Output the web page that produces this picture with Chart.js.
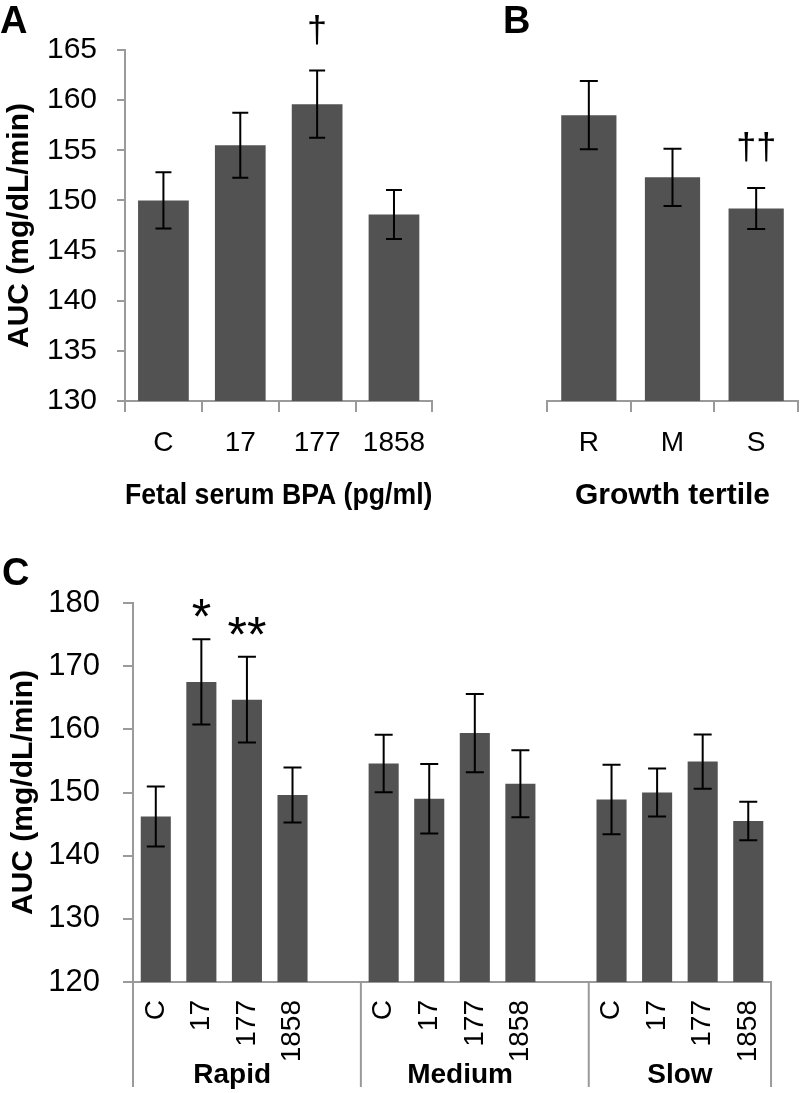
<!DOCTYPE html>
<html>
<head>
<meta charset="utf-8">
<script src="https://cdn.jsdelivr.net/npm/chart.js@4.4.1/dist/chart.umd.min.js"></script>
<style>
  html, body { margin: 0; padding: 0; background: #fff; }
  #wrap { position: relative; width: 800px; height: 1093px; }
  canvas { position: absolute; }
</style>
</head>
<body>
<div id="wrap">
  <canvas id="chartA" width="440" height="520" style="left:0;top:0"></canvas>
  <canvas id="chartB" width="360" height="520" style="left:440px;top:0"></canvas>
  <canvas id="chartC" width="800" height="573" style="left:0;top:520px"></canvas>
</div>
<script>
// panel A: fetal serum BPA
const bpaLabels = ['C', '17', '177', '1858'];
const bpaMeans = [150.0, 155.5, 159.6, 148.6];
const bpaErrors = [2.8, 3.25, 3.35, 2.45];
const bpaMarks = ['', '', '\u2020', ''];

// panel B: growth tertile
const tertileLabels = ['R', 'M', 'S'];
const tertileMeans = [158.5, 152.3, 149.2];
const tertileErrors = [3.4, 2.85, 2.05];
const tertileMarks = ['', '', '\u2020\u2020'];

// panel C: BPA within each growth tertile (empty slot between groups)
const groupNames = ['Rapid', 'Medium', 'Slow'];
const subLabels = ['C', '17', '177', '1858', '', 'C', '17', '177', '1858', '', 'C', '17', '177', '1858'];
const subMeans = [146.2, 167.5, 164.7, 149.6, null, 154.6, 149.0, 159.4, 151.4, null, 148.9, 150.0, 154.9, 145.5];
const subErrors = [4.75, 6.75, 6.8, 4.35, null, 4.55, 5.5, 6.2, 5.3, null, 5.5, 3.8, 4.3, 3.05];
const subMarks = ['', '*', '**', '', '', '', '', '', '', '', '', '', '', ''];

const yTitle = 'AUC (mg/dL/min)';
const FONT = '"Liberation Sans", Arial, sans-serif';
const BAR = '#525252';
const AXIS = '#9a9a9a';

const errorBars = {
  id: 'errorBars',
  afterDatasetsDraw(chart, args, opts) {
    const ctx = chart.ctx;
    const y = chart.scales.y;
    const values = chart.data.datasets[0].data;
    const meta = chart.getDatasetMeta(0);
    ctx.save();
    ctx.strokeStyle = '#000';
    ctx.fillStyle = '#000';
    ctx.lineWidth = 2;
    meta.data.forEach((bar, i) => {
      const m = values[i];
      if (m == null) return;
      const e = opts.errors[i];
      const top = y.getPixelForValue(m + e);
      const bot = y.getPixelForValue(m - e);
      const cx = bar.x;
      ctx.beginPath();
      ctx.moveTo(cx, top); ctx.lineTo(cx, bot);
      ctx.moveTo(cx - opts.cap, top); ctx.lineTo(cx + opts.cap, top);
      ctx.moveTo(cx - opts.cap, bot); ctx.lineTo(cx + opts.cap, bot);
      ctx.stroke();
      const mark = opts.marks[i];
      if (mark) {
        ctx.font = opts.markFont;
        ctx.textAlign = 'center';
        ctx.textBaseline = 'alphabetic';
        ctx.fillText(mark, cx, top - opts.markGap);
      }
    });
    ctx.restore();
  }
};

const panelText = {
  id: 'panelText',
  afterDraw(chart, args, opts) {
    const ctx = chart.ctx;
    ctx.save();
    ctx.fillStyle = '#000';
    ctx.font = 'bold 38px ' + FONT;
    ctx.textAlign = 'left';
    ctx.textBaseline = 'alphabetic';
    ctx.fillText(opts.letter, opts.lx, opts.ly);
    if (opts.groups) {
      const x = chart.scales.x;
      const area = chart.chartArea;
      const edge = i => (x.getPixelForValue(i) + x.getPixelForValue(i + 1)) / 2;
      const cuts = [area.left, edge(4), edge(9), area.right];
      ctx.strokeStyle = AXIS;
      ctx.lineWidth = 2;
      ctx.beginPath();
      cuts.forEach(px => { ctx.moveTo(px, area.bottom); ctx.lineTo(px, chart.height - 6); });
      ctx.stroke();
      ctx.font = 'bold 28px ' + FONT;
      ctx.textAlign = 'center';
      ctx.textBaseline = 'middle';
      opts.groups.forEach((name, g) => {
        const mid = (x.getPixelForValue(g * 5) + x.getPixelForValue(g * 5 + 3)) / 2;
        ctx.fillText(name, mid + (g < 2 ? 8 : 0), chart.height - 18);
      });
    }
    ctx.restore();
  }
};

function axisX(opts) {
  return Object.assign({
    grid: { drawOnChartArea: false, drawTicks: true, tickLength: 11, color: AXIS, lineWidth: 2, offset: true },
    border: { color: AXIS, width: 2 },
    ticks: { color: '#000', font: { family: FONT, size: 28 }, padding: 14, autoSkip: false, maxRotation: 0 },
  }, opts);
}

function axisY(min, max, step, width, tickLen, pad, titlePad, tickSize) {
  return {
    min: min, max: max,
    grid: { drawOnChartArea: false, tickLength: tickLen, color: AXIS, lineWidth: 2 },
    border: { color: AXIS, width: 2 },
    ticks: { stepSize: step, color: '#000', font: { family: FONT, size: tickSize }, padding: pad },
    title: { display: true, text: yTitle, color: '#000', font: { family: FONT, size: 30, weight: 'bold' }, padding: { top: titlePad, bottom: 0 } },
    afterFit(s) { s.width = width; }
  };
}

const baseOpts = {
  responsive: false,
  animation: false,
  events: [],
};

new Chart(document.getElementById('chartA'), {
  type: 'bar',
  data: {
    labels: bpaLabels,
    datasets: [{ data: bpaMeans, backgroundColor: BAR, barPercentage: 0.66, categoryPercentage: 1 }]
  },
  options: Object.assign({}, baseOpts, {
    layout: { padding: { top: 50, right: 7, left: 0, bottom: 0 } },
    plugins: {
      legend: { display: false },
      tooltip: { enabled: false },
      errorBars: { errors: bpaErrors, marks: bpaMarks, cap: 8, markFont: '36px ' + FONT, markGap: 29 },
      panelText: { letter: 'A', lx: 0, ly: 33 }
    },
    scales: {
      x: axisX({
        title: { display: true, text: 'Fetal serum BPA (pg/ml)', color: '#000', font: { family: FONT, size: 30, weight: 'bold' }, padding: { top: 0, bottom: 6 } },
        afterFit(s) { s.height = 119; }
      }),
      y: axisY(130, 165, 5, 125, 8, 20, 2, 30)
    }
  }),
  plugins: [errorBars, panelText]
});

new Chart(document.getElementById('chartB'), {
  type: 'bar',
  data: {
    labels: tertileLabels,
    datasets: [{ data: tertileMeans, backgroundColor: BAR, barPercentage: 0.66, categoryPercentage: 1 }]
  },
  options: Object.assign({}, baseOpts, {
    layout: { padding: { top: 50, right: 2, left: 107, bottom: 0 } },
    plugins: {
      legend: { display: false },
      tooltip: { enabled: false },
      errorBars: { errors: tertileErrors, marks: tertileMarks, cap: 9, markFont: '36px ' + FONT, markGap: 29 },
      panelText: { letter: 'B', lx: 63, ly: 33 }
    },
    scales: {
      x: axisX({
        title: { display: true, text: 'Growth tertile', color: '#000', font: { family: FONT, size: 30, weight: 'bold' }, padding: { top: 0, bottom: 6 } },
        afterFit(s) { s.height = 119; }
      }),
      y: { display: false, min: 130, max: 165 }
    }
  }),
  plugins: [errorBars, panelText]
});

new Chart(document.getElementById('chartC'), {
  type: 'bar',
  data: {
    labels: subLabels,
    datasets: [{ data: subMeans, backgroundColor: BAR, barPercentage: 0.66, categoryPercentage: 1 }]
  },
  options: Object.assign({}, baseOpts, {
    layout: { padding: { top: 83, right: 4, left: 0, bottom: 0 } },
    plugins: {
      legend: { display: false },
      tooltip: { enabled: false },
      errorBars: { errors: subErrors, marks: subMarks, cap: 9, markFont: '50px ' + FONT, markGap: 5 },
      panelText: { letter: 'C', lx: 2, ly: 65, groups: groupNames }
    },
    scales: {
      x: {
        grid: { display: false, drawTicks: false },
        border: { color: AXIS, width: 2 },
        ticks: { color: '#000', font: { family: FONT, size: 28 }, padding: 18, autoSkip: false, minRotation: 90, maxRotation: 90 },
        afterFit(s) { s.height = 111; }
      },
      y: axisY(120, 180, 10, 133, 10, 23, 6, 31)
    }
  }),
  plugins: [errorBars, panelText]
});
</script>
</body>
</html>
